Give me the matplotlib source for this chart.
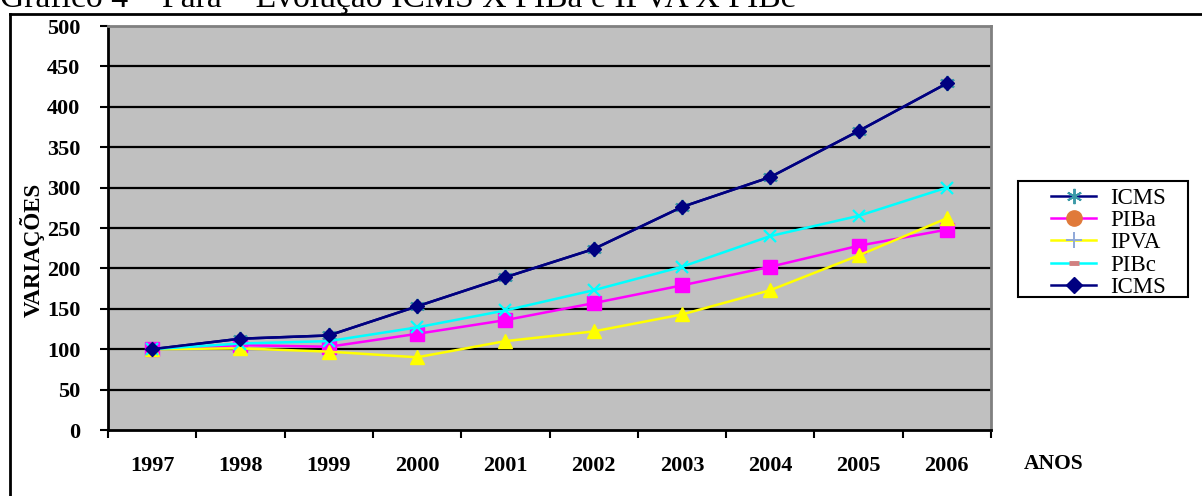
import matplotlib
matplotlib.use("Agg")
import matplotlib.pyplot as plt
from matplotlib.lines import Line2D
from matplotlib.patches import Rectangle

plt.rcParams['font.family'] = ['Liberation Serif', 'DejaVu Serif']

anos = ['1997', '1998', '1999', '2000', '2001', '2002', '2003', '2004', '2005', '2006']
icms = [100, 113, 117, 153, 189, 224, 276, 313, 370, 429]
piba = [100, 105, 103, 119, 136, 157, 179, 202, 228, 248]
ipva = [100, 101, 97, 90, 110, 122, 143, 173, 216, 262]
pibc = [100, 107, 110, 127, 148, 173, 202, 240, 265, 300]
y_ticks = [0, 50, 100, 150, 200, 250, 300, 350, 400, 450, 500]

W, H = 1202, 496
fig = plt.figure(figsize=(W / 100, H / 100), dpi=100)
ax = fig.add_axes([108 / W, 1 - 430 / H, (991 - 108) / W, (430 - 26) / H])
ax.set_facecolor('#C0C0C0')

x = list(range(len(anos)))

# horizontal gridlines
for v in y_ticks[1:-1]:
    ax.axhline(v, color='black', lw=1.6, zorder=1)

lw = 1.8
ax.plot(x, icms, color='#000080', lw=lw, marker=(6, 2, 0), ms=11, mec='#3C9AA8',
        mew=1.4, zorder=3)
ax.plot(x, piba, color='#FF00FF', lw=lw, marker='s', ms=10, mfc='#FF00FF',
        mec='#FF00FF', zorder=3)
ax.plot(x, ipva, color='#FFFF00', lw=lw, marker='^', ms=10, mfc='#FFFF00',
        mec='#FFFF00', zorder=3)
ax.plot(x, pibc, color='#00FFFF', lw=lw, marker='x', ms=9, mew=1.6,
        mec='#00FFFF', zorder=4)
ax.plot(x, icms, color='#000080', lw=lw, marker='D', ms=7.5, mfc='#000080',
        mec='#000080', zorder=5)

ax.set_xlim(-0.5, len(anos) - 0.5)
ax.set_ylim(0, 500)
ax.set_yticks(y_ticks)
ax.set_yticklabels([str(v) for v in y_ticks], fontsize=16, fontweight='bold')
ax.set_xticks(x)
ax.set_xticklabels(anos, fontsize=16, fontweight='bold')
ax.set_xticks([i - 0.5 for i in range(len(anos) + 1)], minor=True)
ax.tick_params(axis='x', which='major', length=0, pad=19)
ax.tick_params(axis='x', which='minor', length=6, width=1.5, direction='out')
ax.tick_params(axis='y', which='major', length=6, width=1.5, direction='out', pad=14)

for s in ['left', 'bottom']:
    ax.spines[s].set_color('black')
    ax.spines[s].set_linewidth(2)
for s in ['top', 'right']:
    ax.spines[s].set_color('#808080')
    ax.spines[s].set_linewidth(2)

fig.text(32 / W, 1 - 250 / H, 'VARIAÇÕES', rotation=90, ha='center', va='center',
         fontsize=16.5, fontweight='bold')
fig.text(1054 / W, 1 - 464 / H, 'ANOS', ha='center', va='center',
         fontsize=15.5, fontweight='bold')

# chart title, running along the top edge
fig.text(0 / W, 1 - 7 / H, 'Gráfico 4 – Pará – Evolução ICMS X PIBa e IPVA X PIBc',
         ha='left', va='baseline', fontsize=24.3)

# outer frame lines
fig.add_artist(Line2D([10 / W, 10 / W], [0, 1 - 14 / H], color='black', lw=2,
                      transform=fig.transFigure))
fig.add_artist(Line2D([10 / W, 1], [1 - 14 / H, 1 - 14 / H], color='black', lw=2,
                      transform=fig.transFigure))

handles = [
    Line2D([], [], color='#000080', lw=1.8, marker=(6, 2, 0), ms=11, mec='#3C9AA8', mew=1.4),
    Line2D([], [], color='#FF00FF', lw=1.8, marker='o', ms=11, mfc='#E07A3A', mec='#E07A3A'),
    Line2D([], [], color='#FFFF00', lw=1.8, marker='+', ms=11, mec='#8FA8D8', mew=1.4),
    Line2D([], [], color='#00FFFF', lw=1.8, marker='_', ms=7, mec='#D08080', mew=3.5),
    Line2D([], [], color='#000080', lw=1.8, marker='D', ms=8, mfc='#000080', mec='#000080'),
]
labels = ['ICMS', 'PIBa', 'IPVA', 'PIBc', 'ICMS']
leg = fig.legend(handles, labels, loc='upper left',
                 bbox_to_anchor=(1046 / W, 1 - 183 / H),
                 fontsize=16.5, frameon=False, handlelength=2.0, handletextpad=0.6,
                 labelspacing=0.06, borderpad=0.2, borderaxespad=0)
fig.add_artist(Rectangle((1018 / W, 1 - 297 / H), 170 / W, 116 / H, fill=False,
                         edgecolor='black', lw=1.5, transform=fig.transFigure))

fig.savefig('out.png', dpi=100)
